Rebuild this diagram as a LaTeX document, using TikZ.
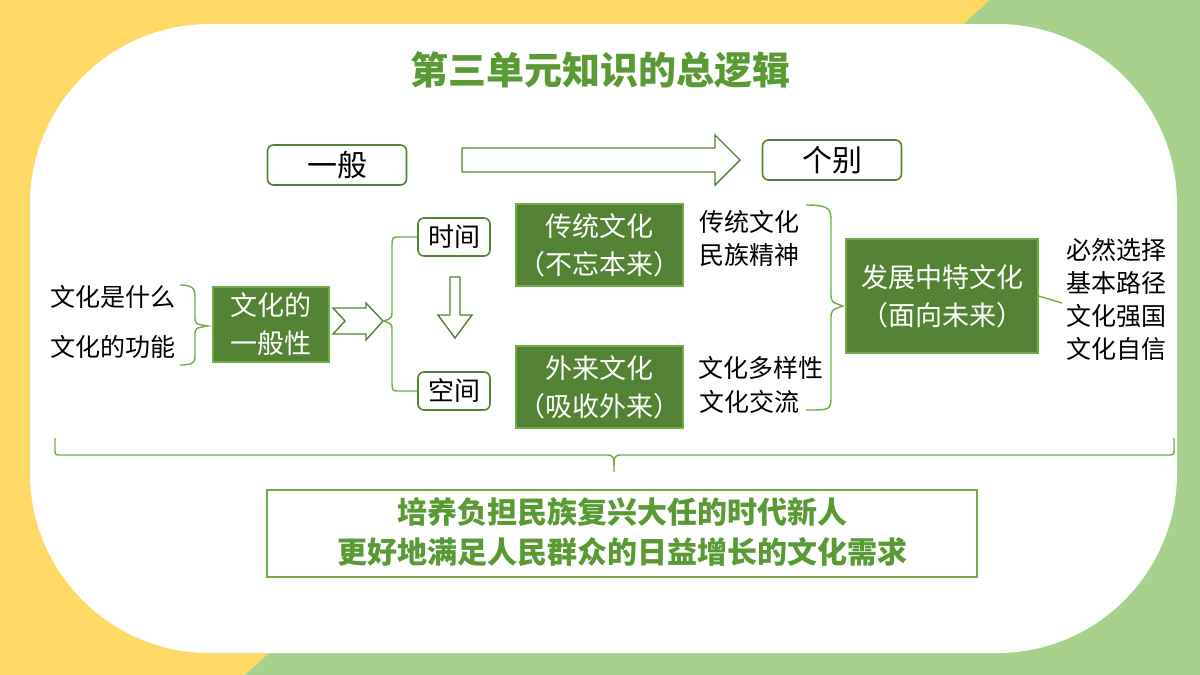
\documentclass[tikz,border=0pt]{standalone}
\usepackage{fontspec}
\setmainfont{Noto Sans CJK SC}
\newfontfamily\cjkb{Noto Sans CJK SC Bold}
\newfontfamily\cjkh{Noto Sans CJK SC Black}
\definecolor{bgy}{HTML}{FFD966}
\definecolor{bgg}{HTML}{A9D18E}
\definecolor{gfill}{HTML}{548235}
\definecolor{gline}{HTML}{70AD47}
\definecolor{gtext}{HTML}{5A9A34}
\newcommand\mybrR[5]{% x1 xmid xtip ytop ymid ybot : tip right
}
\begin{document}
\begin{tikzpicture}[x=0.5pt,y=-0.5pt,
  ob/.style={draw=gfill,line width=0.8pt,rounded corners=3pt,fill=white,inner sep=0pt},
  gb/.style={draw=gline,line width=0.6pt,fill=gfill,text=white,inner sep=0pt,align=center,font=\fontsize{13.5}{19}\selectfont},
  tx/.style={inner sep=0pt,align=left,font=\fontsize{12.5}{17}\selectfont},
  ln/.style={draw=gline,line width=0.7pt},
  ar/.style={draw=gfill,line width=0.7pt,fill=white}]
\useasboundingbox (0,0) rectangle (1200,675);
\fill[bgy] (0,0) rectangle (1200,675);
\fill[bgg] (990,0) -- (1200,0) -- (1200,675) -- (245,675) -- cycle;
\fill[white,rounded corners=90pt] (30,24) rectangle (1177,653);
% title
\node[font=\cjkh\fontsize{19}{22}\selectfont,text=gtext] (title) at (600,70) {第三单元知识的总逻辑};
% top row
\node[ob,minimum width=139pt*0.5,minimum height=20pt,font=\fontsize{15}{18}\selectfont] (yb) at (337,165) {一般};
\node[ob,minimum width=139pt*0.5,minimum height=20pt,font=\fontsize{15}{18}\selectfont] (gb) at (832,160) {个别};
\draw[ar] (462,148) -- (715,148) -- (715,135) -- (740,160) -- (715,185) -- (715,172) -- (462,172) -- cycle;
% left
\node[tx] (t1) at (113,297) {文化是什么};
\node[tx] (t2) at (113,347) {文化的功能};
\draw[ln] (180,285) .. controls (195,285) and (195,290) .. (195,300) -- (195,316) .. controls (195,324) .. (208,326) .. controls (195,328) .. (195,336) -- (195,352) .. controls (195,362) and (195,365) .. (180,365);
\node[gb,minimum width=58pt,minimum height=37.5pt] (gen) at (271,324.5) {文化的\\一般性};
\draw[ar] (333,308) -- (366,308) -- (366,303) -- (383,321) -- (366,340) -- (366,334) -- (333,334) -- (345,321) -- cycle;
% time / space
\node[ob,minimum width=36pt,minimum height=19pt,font=\fontsize{13}{16}\selectfont] (sj) at (454,237) {时间};
\node[ob,minimum width=36pt,minimum height=19pt,font=\fontsize{13}{16}\selectfont] (kj) at (454,391) {空间};
\draw[ln] (sj.west) -- (400,237) .. controls (392,237) .. (392,248) -- (392,310) .. controls (392,318) .. (384,321) .. controls (392,324) .. (392,332) -- (392,380) .. controls (392,391) .. (400,391) -- (kj.west);
\draw[ar] (450,277) -- (460,277) -- (460,315) -- (472,315) -- (455,338) -- (438,315) -- (450,315) -- cycle;
% culture boxes
\node[gb,minimum width=83.5pt,minimum height=41pt] (ct) at (599.5,245) {传统文化\\（不忘本来）};
\node[gb,minimum width=83.5pt,minimum height=41pt] (wl) at (599.5,387) {外来文化\\（吸收外来）};
\node[tx] (c1) at (749,222) {传统文化};
\node[tx] (c2) at (749,255) {民族精神};
\node[tx] (c3) at (761,368) {文化多样性};
\node[tx] (c4) at (749,402) {文化交流};
\draw[ln] (806,205) .. controls (831,205) and (831,210) .. (831,222) -- (831,292) .. controls (831,302) .. (843,306) .. controls (831,310) .. (831,320) -- (831,395) .. controls (831,410) and (831,410) .. (806,410);
\node[gb,minimum width=96pt,minimum height=57pt] (fz) at (942,296) {发展中特文化\\（面向未来）};
\coordinate (fzr) at (1062,303);
\draw[ln] (fz.east) -- (fzr);
\node[tx] (r1) at (1116,250) {必然选择};
\node[tx] (r2) at (1116,283) {基本路径};
\node[tx] (r3) at (1116,316) {文化强国};
\node[tx] (r4) at (1116,349) {文化自信};
% bottom brace
\coordinate (bl) at (55,438);
\coordinate (br) at (1174,438);
\coordinate (bt) at (614,472);
\draw[ln] (bl) -- (55,450) .. controls (55,455) .. (62,455) -- (605,455) .. controls (614,455) .. (bt) .. controls (614,455) .. (623,455) -- (1167,455) .. controls (1174,455) .. (1174,450) -- (br);
\node[draw=gline,line width=0.7pt,minimum width=355pt,minimum height=43.5pt,inner sep=0pt] (goal) at (622,533.5) {};
\node[font=\cjkh\fontsize{15}{20}\selectfont,text=gtext,align=center] (gt) at (622,532) {培养负担民族复兴大任的时代新人\\更好地满足人民群众的日益增长的文化需求};
\end{tikzpicture}
\end{document}
